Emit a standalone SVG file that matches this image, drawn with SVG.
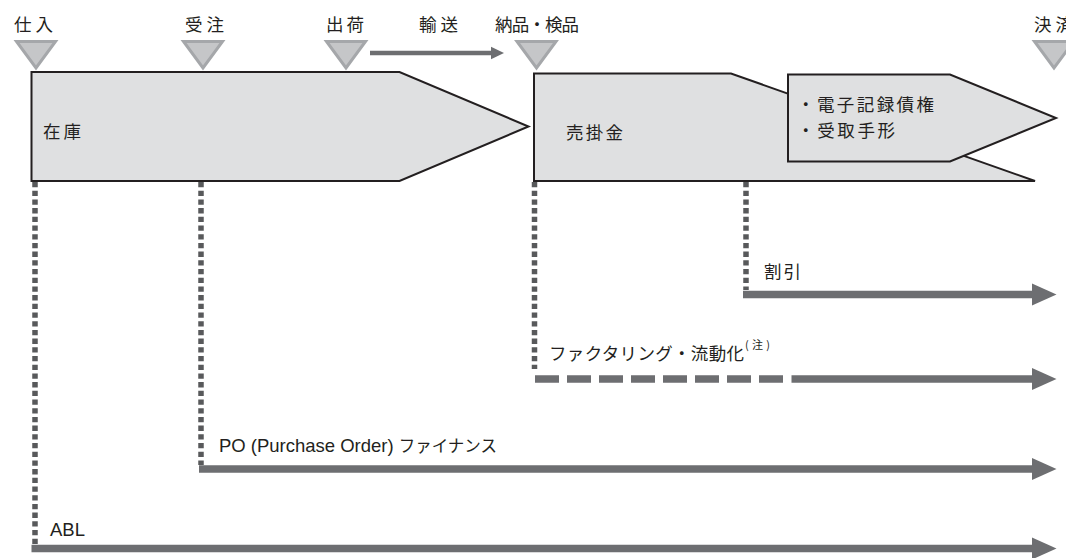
<svg xmlns="http://www.w3.org/2000/svg" width="1066" height="558" viewBox="0 0 1066 558">
<defs>
<marker id="head" markerUnits="userSpaceOnUse" markerWidth="25" markerHeight="23" viewBox="0 0 25 23" refX="1" refY="11.5" orient="auto"><path d="M0,0.5 L24.5,11.5 L0,22.5 z" fill="#6d6e71"/></marker>
<marker id="headS" markerUnits="userSpaceOnUse" markerWidth="14" markerHeight="14" viewBox="0 0 14 14" refX="0.5" refY="7" orient="auto"><path d="M0,0.5 L13.5,7 L0,13.5 z" fill="#6d6e71"/></marker>
<style>
.jp{font-family:"Noto Sans CJK JP","Noto Sans CJK SC",sans-serif;fill:#231f20;font-size:17.5px}
.lat{font-family:"Liberation Sans",Arial,"Noto Sans CJK JP",sans-serif;fill:#231f20;font-size:18.5px}
.tri{fill:#c5c6c8;stroke:#a5a7aa;stroke-width:3;stroke-linejoin:miter}
.box{fill:#dfe0e1;stroke:#231f20;stroke-width:2;stroke-linejoin:miter}
.arrow{stroke:#6d6e71;stroke-width:7.5;fill:none;marker-end:url(#head)}
.thin{stroke:#6d6e71;stroke-width:4.5;fill:none;marker-end:url(#headS)}
.dot{stroke:#58595b;stroke-width:5.5;stroke-dasharray:5.3 3.4;fill:none}
.dash{stroke:#6d6e71;stroke-width:7.3;stroke-dasharray:24 8;fill:none}
</style>
</defs>
<rect width="1066" height="558" fill="#ffffff"/>

<g id="boxes">
  <g id="inventory">
    <polygon class="box" points="31.5,72 399.5,72 528.5,126.5 399.5,181 31.5,181"/>
    <text class="jp" x="43" y="138" textLength="38">在庫</text>
  </g>
  <g id="receivables">
    <polygon class="box" points="534,73.5 731,73.5 1035,181 534,181"/>
    <text class="jp" x="566" y="139" textLength="57">売掛金</text>
  </g>
  <g id="notes">
    <polygon class="box" points="788,74.5 950,74.5 1056,118 950,161.5 788,161.5"/>
    <text class="jp" x="797" y="111" textLength="137">・電子記録債権</text>
    <text class="jp" x="797" y="137" textLength="98">・受取手形</text>
  </g>
</g>

<g id="m-shiire">
  <polygon class="tri" points="16.5,41.5 55.5,41.5 36,68"/>
  <text class="jp" x="14" y="31" textLength="39">仕入</text>
</g>
<g id="m-juchu">
  <polygon class="tri" points="183.5,41.5 222.5,41.5 203,68"/>
  <text class="jp" x="185" y="31" textLength="39">受注</text>
</g>
<g id="m-shukka">
  <polygon class="tri" points="326.5,41.5 365.5,41.5 346,68"/>
  <text class="jp" x="326" y="31" textLength="38">出荷</text>
</g>
<g id="m-nohin">
  <polygon class="tri" points="517,41.5 556,41.5 536.5,68"/>
  <text class="jp" x="495" y="31" textLength="84">納品・検品</text>
</g>
<g id="m-kessai">
  <polygon class="tri" points="1034.5,41.5 1073.5,41.5 1054,68"/>
  <text class="jp" x="1034" y="31" textLength="39">決済</text>
</g>

<g id="connectors">
  <g id="transport">
    <path class="thin" d="M370,53 H491"/>
    <text class="jp" x="419" y="31" textLength="39">輸送</text>
  </g>
  <g id="discount">
    <path class="dot" d="M746,182 V290"/>
    <path class="arrow" d="M743,294.5 H1033"/>
    <text class="jp" x="764" y="278" textLength="37">割引</text>
  </g>
  <g id="factoring">
    <path class="dot" d="M534.5,182 V369"/>
    <path class="dash" d="M535,379 H783.5"/>
    <path class="arrow" d="M791.5,379 H1033"/>
    <text class="jp" x="549" y="360" textLength="195">ファクタリング・流動化</text>
    <text class="jp" x="745" y="349" style="font-size:11px" textLength="25">(注)</text>
  </g>
  <g id="po">
    <path class="dot" d="M201,182 V465"/>
    <path class="arrow" d="M199,469 H1033"/>
    <text class="lat" x="219" y="452" textLength="278">PO (Purchase Order) <tspan style="font-size:16.5px">ファイナンス</tspan></text>
  </g>
  <g id="abl">
    <path class="dot" d="M35,182 V544"/>
    <path class="arrow" d="M31.5,548.5 H1033"/>
    <text class="lat" x="50" y="536">ABL</text>
  </g>
</g>
</svg>
